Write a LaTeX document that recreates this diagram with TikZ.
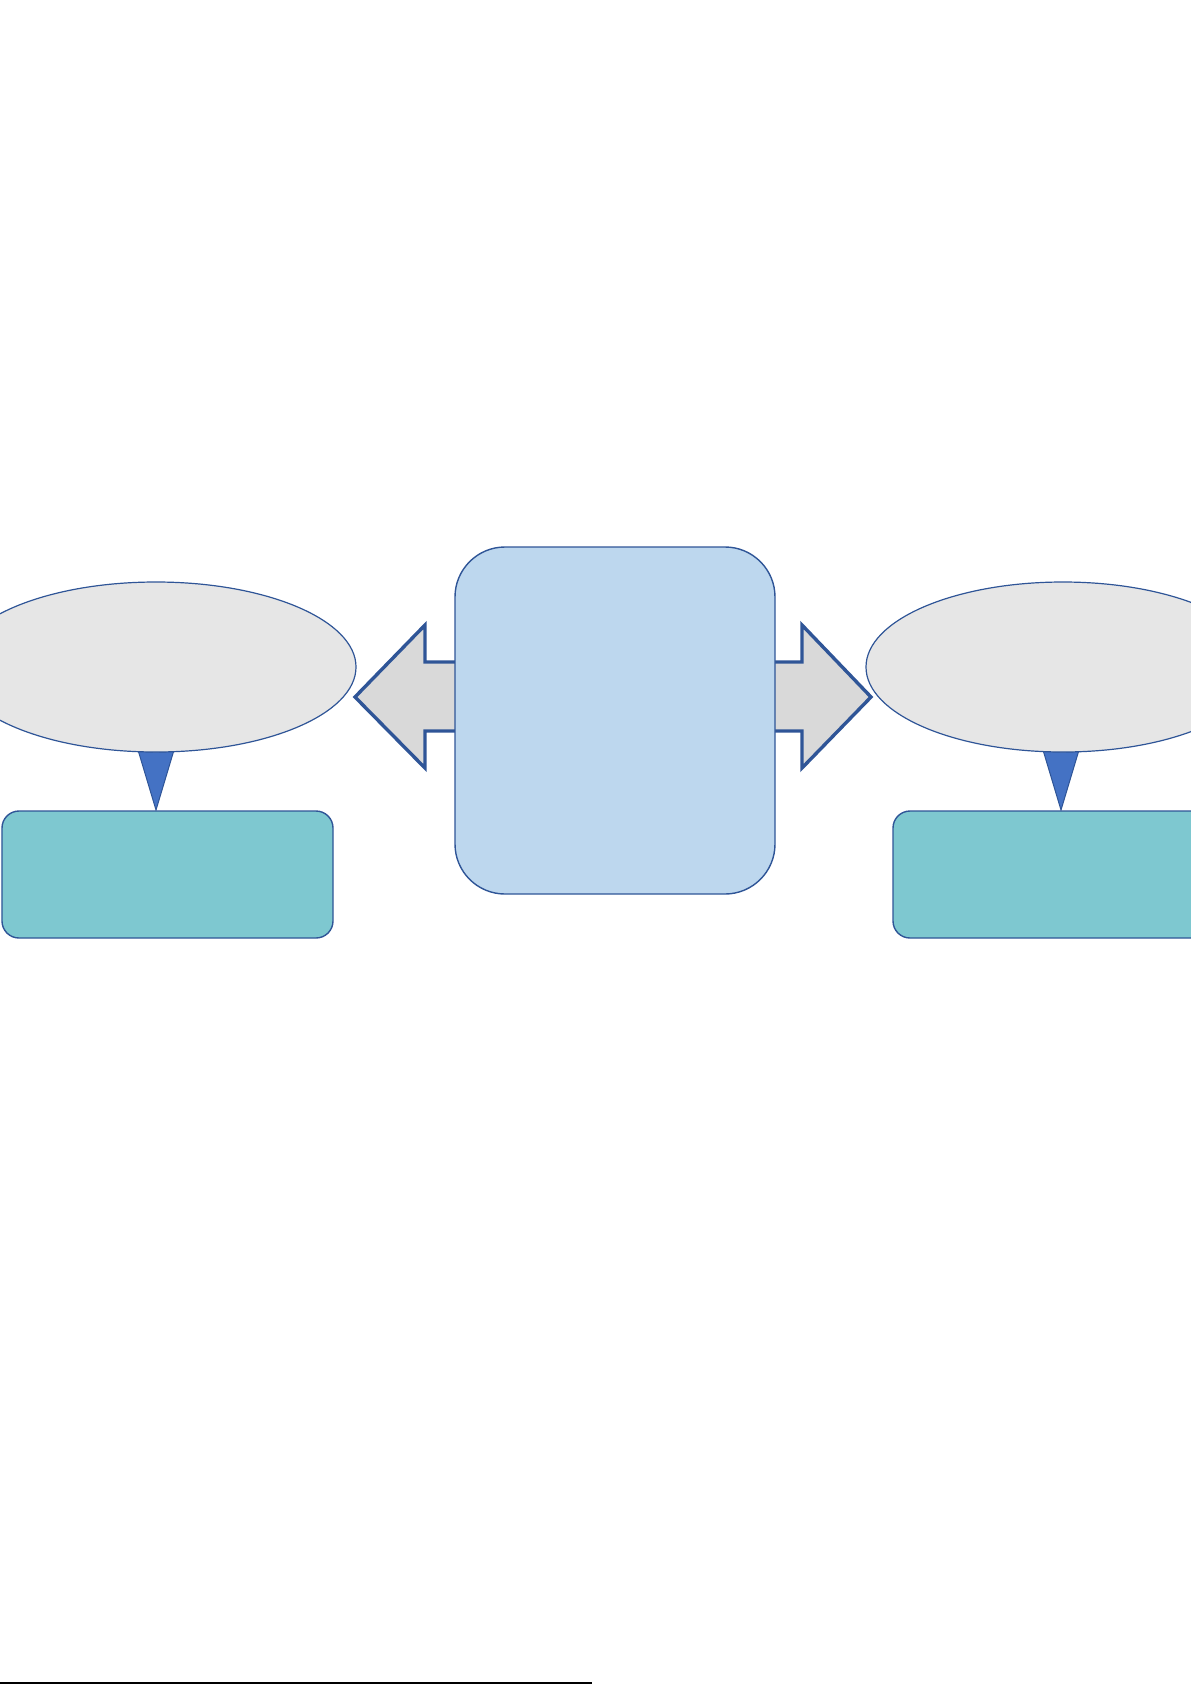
\documentclass[tikz,border=0pt]{standalone}
\usetikzlibrary{shapes.geometric}
\definecolor{edgeblue}{HTML}{2F5597}
\definecolor{hubfill}{HTML}{BDD7EE}
\definecolor{bubblefill}{HTML}{E6E6E6}
\definecolor{arrowfill}{HTML}{D9D9D9}
\definecolor{tailfill}{HTML}{4472C4}
\definecolor{boxfill}{HTML}{7EC8D0}
\begin{document}
\begin{tikzpicture}[x=0.5bp,y=-0.5bp,
  hub/.style={draw=edgeblue, fill=hubfill, line width=0.7bp, rounded corners=25bp,
    minimum width=160bp, minimum height=173.5bp, inner sep=0pt, outer sep=0pt},
  bubble/.style={ellipse, draw=edgeblue, fill=bubblefill, line width=0.6bp,
    minimum height=85bp, inner sep=0pt, outer sep=0pt},
  infobox/.style={draw=edgeblue, fill=boxfill, line width=0.7bp, rounded corners=8.5bp,
    minimum height=63.5bp, inner sep=0pt, outer sep=0pt},
  blockarrow/.style={draw=edgeblue, fill=arrowfill, line width=1.7bp, line join=miter},
  tail/.style={draw=edgeblue, fill=tailfill, line width=0.5bp, line join=miter},
]
\useasboundingbox (0,0) rectangle (1191,1685);
\clip (0,0) rectangle (1191,1685);

% block arrows (behind the hub)
\draw[blockarrow] (470,662) -- (425,662) -- (425,625) -- (355,697) -- (425,768) -- (425,731) -- (470,731);
\draw[blockarrow] (760,662) -- (802,662) -- (802,625) -- (871,697) -- (802,768) -- (802,731) -- (760,731);

% hub
\node[hub] (hub) at (615,720.5) {};

% tails
\draw[tail] (135,740) -- (156,810) -- (177,740) -- cycle;
\draw[tail] (1040,740) -- (1061,810) -- (1082,740) -- cycle;

% bubbles
\node[bubble, minimum width=200bp] (lbubble) at (156,667) {};
\node[bubble, minimum width=197bp] (rbubble) at (1063,667) {};

% boxes
\node[infobox, minimum width=165.5bp] (lbox) at (167.5,874.5) {};
\node[infobox, minimum width=173.5bp] (rbox) at (1066.5,874.5) {};

% footnote rule
\coordinate (ruleL) at (0,1683);
\coordinate (ruleR) at (592,1683);
\draw[line width=0.8bp] (ruleL) -- (ruleR);
\end{tikzpicture}
\end{document}
